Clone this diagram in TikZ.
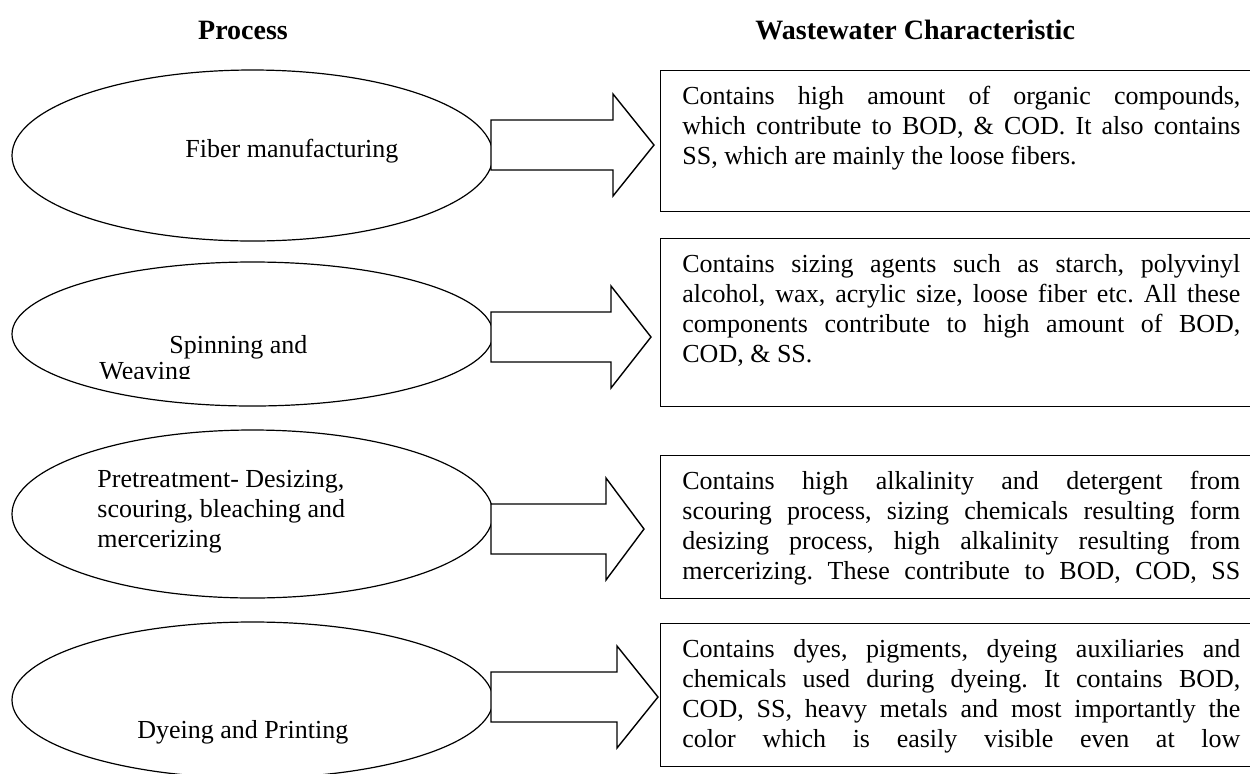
\documentclass[tikz,border=0pt]{standalone}
\usepackage{fontspec}
\setmainfont{Liberation Serif}
\usetikzlibrary{shapes.geometric, positioning}

\begin{document}
\begin{tikzpicture}
   [
      x=0.5pt, y=-0.5pt, % one unit = one pixel of the page, counted downwards
      process/.style={ellipse, draw, line width=0.6pt, inner sep=0pt, minimum width=240.5pt},
      process text/.style={anchor=base west, inner sep=0pt, font=\fontsize{13}{15}\selectfont},
      heading/.style={anchor=base, inner sep=0pt, font=\fontsize{14}{16}\selectfont\bfseries},
      charbox/.style={draw, line width=0.7pt, inner sep=0pt, minimum width=310pt, anchor=north west},
      char text/.style={text width=279pt, align=justify, inner sep=0pt, font=\fontsize{13}{15}\selectfont\frenchspacing},
      bigarrow/.style={draw, fill=white, line width=0.7pt, line join=miter}
   ]

   \useasboundingbox (0,0) rectangle (1250,773);
   \clip (0,0) rectangle (1250,773);

   % =======================================================
   % Column headings
   % =======================================================

   \node[heading] (head_proc) at (243,39) {Process};
   \node[heading, anchor=base west] (head_char) at (755,39) {Wastewater Characteristic};

   % =======================================================
   % Processes (left column)
   % =======================================================

   \node[process, minimum height=85.5pt] (proc1) at (252.5,155.5) {};
   \node[process, minimum height=72pt] (proc2) at (252.5,334) {};
   \node[process, minimum height=84pt] (proc3) at (252.5,514) {};
   \node[process, minimum height=78pt] (proc4) at (252.5,700) {};

   \node[process text] (proc1_txt) at (185,157) {Fiber manufacturing};
   \node[process text] (proc2_txt) at (169,353) {Spinning and};
   % second line is cut off at the foot of its text frame
   \begin{scope}
      \clip (0,262) rectangle (493,378);
      \node[process text] (proc2_txt2) at (99,379) {Weaving};
   \end{scope}
   % base of a multi-line node = baseline of its last line
   \node[process text, align=left] (proc3_txt) at (97,547)
      {Pretreatment- Desizing,\\scouring, bleaching and\\mercerizing};
   \node[process text] (proc4_txt) at (137,738) {Dyeing and Printing};

   % =======================================================
   % Wastewater characteristics (right column)
   % =======================================================

   \node[charbox, minimum height=70.5pt] (char1) at (660,70) {};
   \node[charbox, minimum height=84pt] (char2) at (660,238) {};
   \node[charbox, minimum height=71.5pt] (char3) at (660,455) {};
   \node[charbox, minimum height=71.5pt] (char4) at (660,623) {};

   \node[char text, below right=8pt and 11pt of char1.north west] (char1_txt)
      {Contains high amount of organic compounds,\linebreak
       which contribute to BOD, \& COD. It also contains\linebreak
       SS, which are mainly the loose fibers.};
   \node[char text, below right=8pt and 11pt of char2.north west] (char2_txt)
      {Contains sizing agents such as starch, polyvinyl\linebreak
       alcohol, wax, acrylic size, loose fiber etc. All these\linebreak
       components contribute to high amount of BOD,\linebreak
       COD, \& SS.};
   % last lines run full width here as well
   \node[char text, below right=8pt and 11pt of char3.north west] (char3_txt)
      {Contains high alkalinity and detergent from\linebreak
       scouring process, sizing chemicals resulting form\linebreak
       desizing process, high alkalinity resulting from\linebreak
       mercerizing. These contribute to BOD, COD, SS\linebreak};
   \node[char text, below right=8pt and 11pt of char4.north west] (char4_txt)
      {Contains dyes, pigments, dyeing auxiliaries and\linebreak
       chemicals used during dyeing. It contains BOD,\linebreak
       COD, SS, heavy metals and most importantly the\linebreak
       color which is easily visible even at low\linebreak};

   % =======================================================
   % Block arrows (process -> characteristic)
   % =======================================================

   \foreach \ymid/\headx/\tipx in {145/613/654, 337/611/651, 529/606/644, 697/617/658}
      \draw[bigarrow] (491,\ymid-25) -- (\headx,\ymid-25) -- (\headx,\ymid-51)
         -- (\tipx,\ymid) -- (\headx,\ymid+51) -- (\headx,\ymid+25) -- (491,\ymid+25) -- cycle;

\end{tikzpicture}
\end{document}
